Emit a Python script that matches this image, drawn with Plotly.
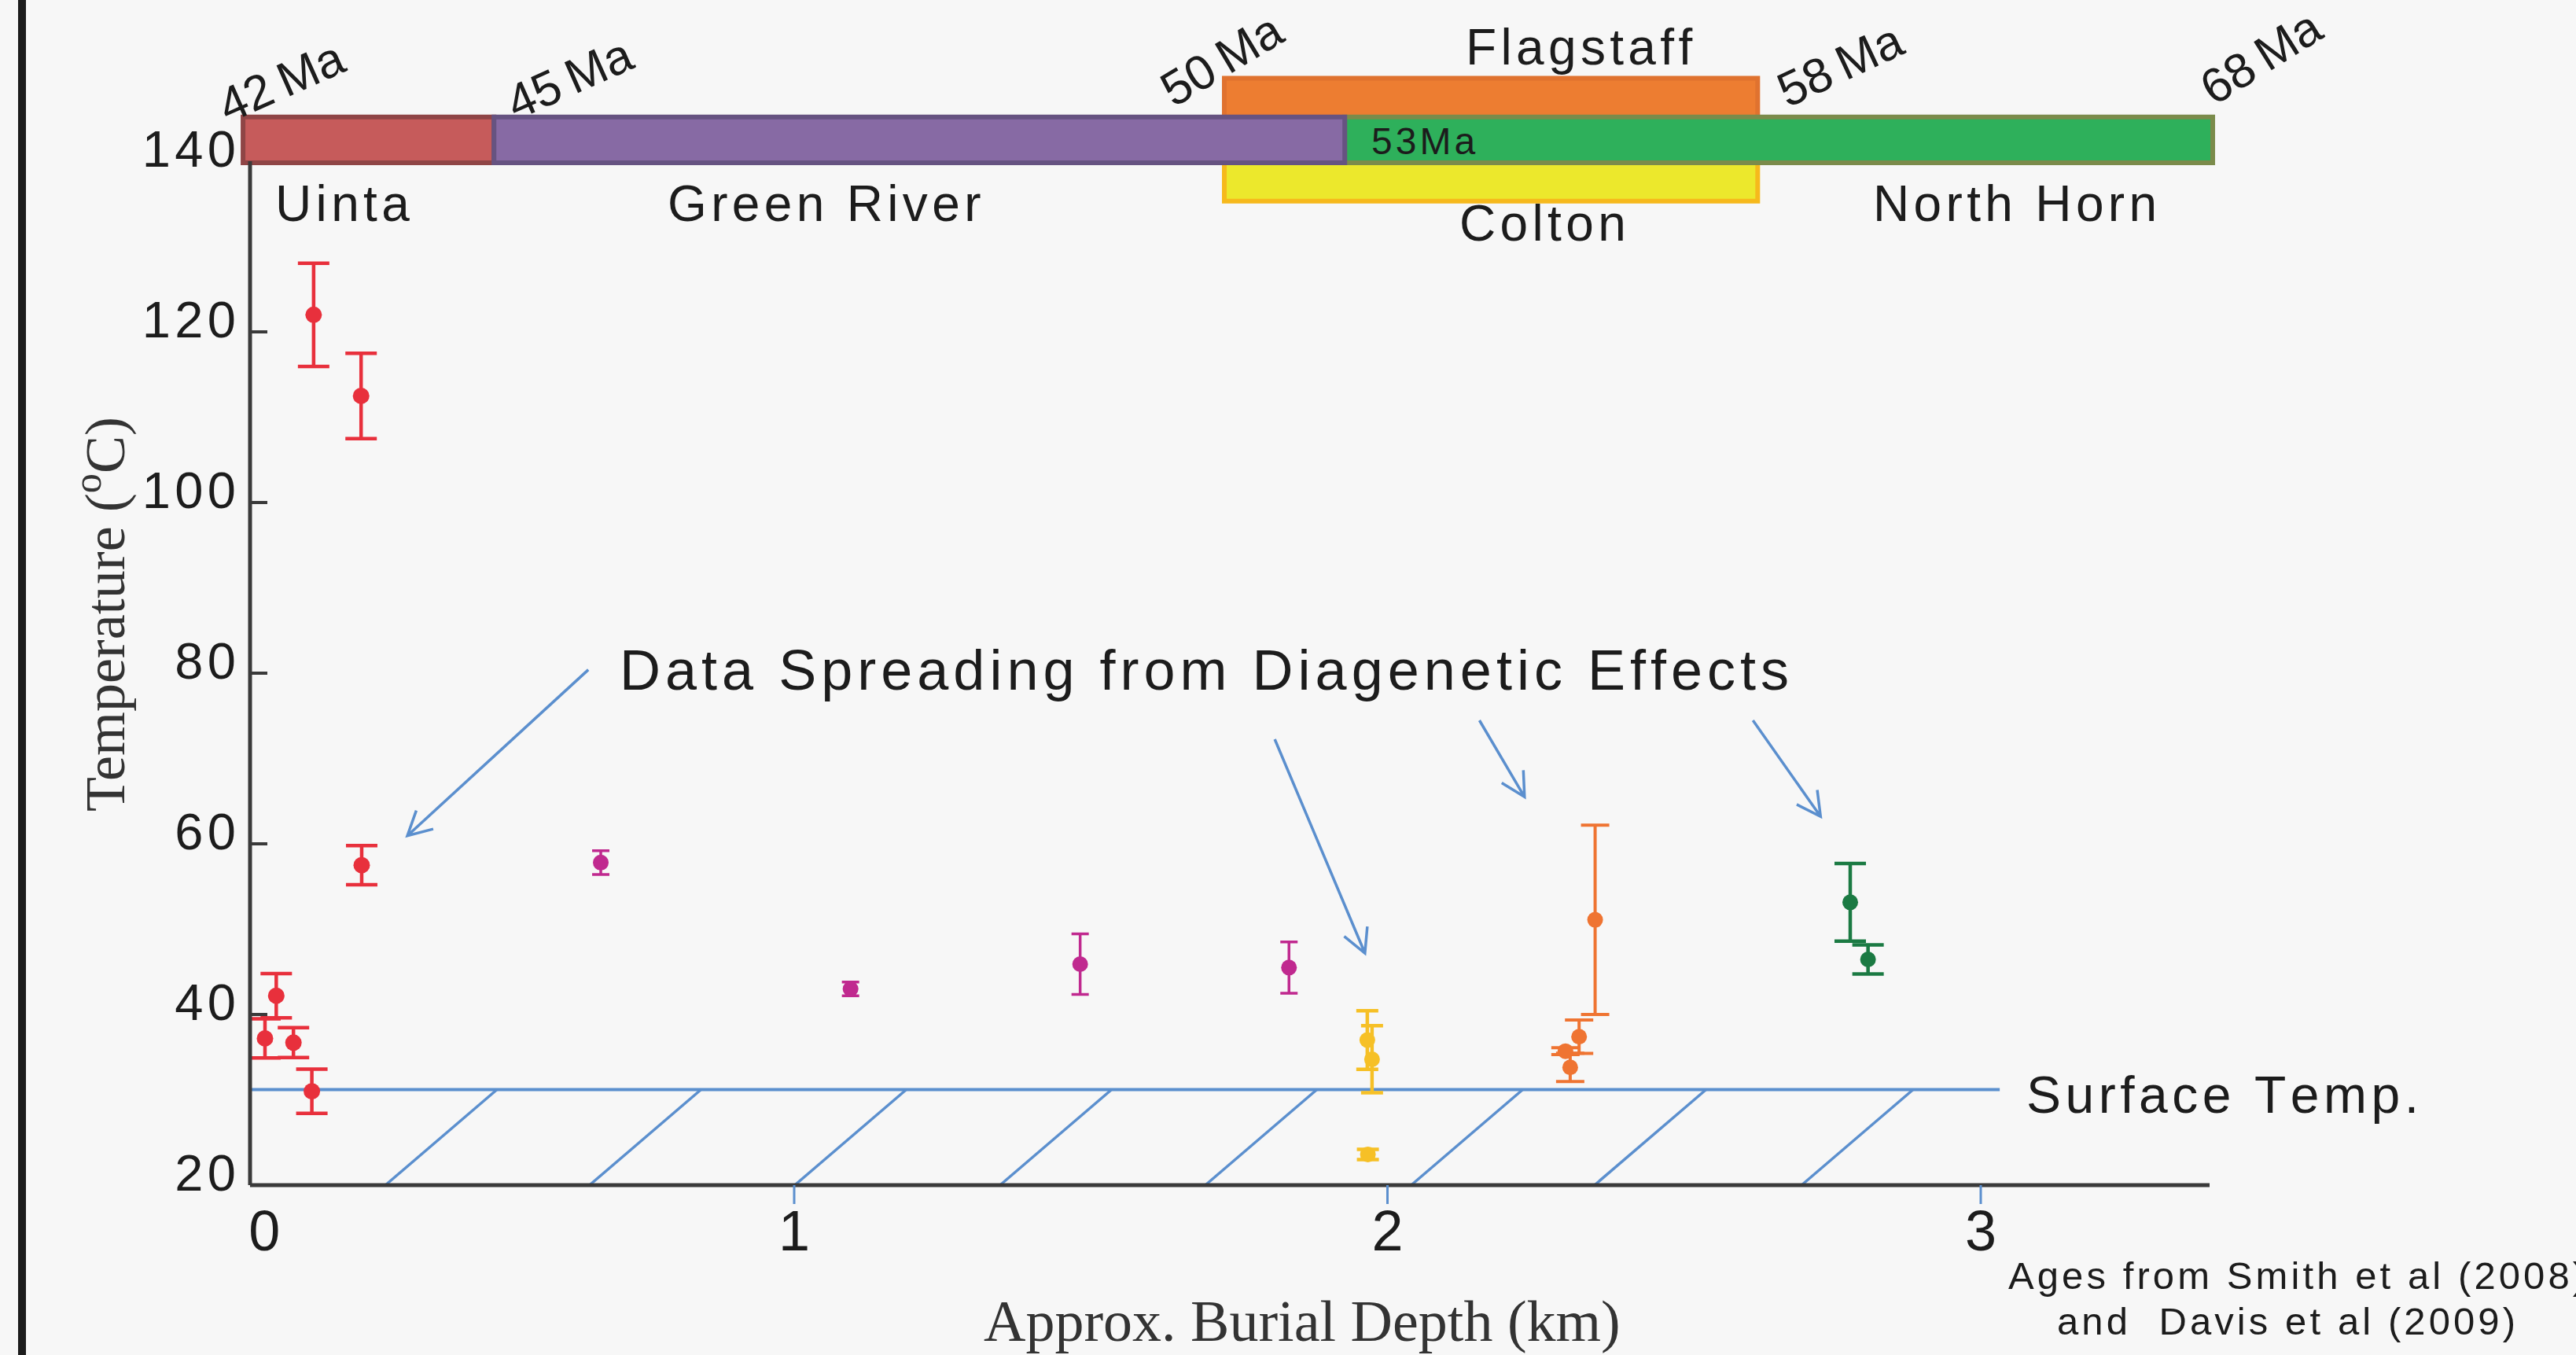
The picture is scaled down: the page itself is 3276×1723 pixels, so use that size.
import math
import plotly.graph_objects as go

# ---------------- data ----------------
formation_names = ["Uinta", "Green River", "Flagstaff", "Colton", "North Horn"]
formation_start_km = [0.071, 0.494, 1.725, 1.725, 1.928]
formation_end_km = [0.494, 1.928, 2.624, 2.624, 3.391]
age_labels = ["42 Ma", "45 Ma", "50 Ma", "58 Ma", "68 Ma"]
inner_age_label = "53Ma"

uinta_depth_km = [0.190, 0.270, 0.271, 0.127, 0.108, 0.156, 0.187]
uinta_temp_c = [122.0, 112.5, 57.5, 42.2, 37.2, 36.7, 31.0]
uinta_err_c = [6.05, 5.0, 2.3, 2.6, 2.3, 1.75, 2.6]

green_river_depth_km = [0.674, 1.095, 1.482, 1.834]
green_river_temp_c = [57.8, 43.0, 45.9, 45.5]
green_river_err_c = [1.4, 0.8, 3.55, 3.0]

colton_depth_km = [1.966, 1.974, 1.967]
colton_temp_c = [37.0, 34.75, 23.6]
colton_err_c = [3.43, 3.93, 0.6]

flagstaff_depth_km = [2.350, 2.323, 2.300, 2.308]
flagstaff_temp_c = [51.1, 37.4, 35.7, 33.8]
flagstaff_err_c = [11.1, 1.96, 0.4, 1.65]

north_horn_depth_km = [2.780, 2.810]
north_horn_temp_c = [53.15, 46.45]
north_horn_err_c = [4.55, 1.7]

surface_temp_c = 31.2
surface_line_end_km = 3.032
hatch_base_km = [0.311, 0.655, 1.001, 1.347, 1.693, 2.040, 2.349, 2.698]
hatch_lean_km = 0.188

x_tick_vals = [0.107, 1, 2, 3]
x_tick_text = ["0", "1", "2", "3"]
y_tick_vals = [20, 40, 60, 80, 100, 120, 140]
blue_tick_vals = [1, 2, 3]

arrow_from = [(0.653, 80.4), (1.810, 72.26), (2.155, 74.47), (2.616, 74.47)]
arrow_to = [(0.348, 60.95), (1.962, 47.19), (2.231, 65.5), (2.730, 63.2)]

# ---------------- geometry / styles ----------------
W, H = 3276, 1723
PL, PR, PT, PB = 300, 2830, 0, 1545
KM0_PX, PX_PER_KM = 255.5, 754.5
C20_PX, PX_PER_C = 1507.0, 10.85


def km_at(px):
    return (px - KM0_PX) / PX_PER_KM


def c_at(py):
    return 20 + (C20_PX - py) / PX_PER_C


def to_px(x, y):
    return KM0_PX + PX_PER_KM * x, C20_PX - PX_PER_C * (y - 20)


def paper_xy(px, py):
    return (px - PL) / (PR - PL), (PB - py) / (PB - PT)


X_RANGE = [km_at(PL), km_at(PR)]
Y_RANGE = [c_at(PB), c_at(PT)]
AX_X0, AX_X1 = km_at(318), km_at(2810)
AX_Y_TOP = 140

SANS = "Liberation Sans, Arial, sans-serif"
SERIF = "Liberation Serif, Times New Roman, serif"
BLUE = "#5b8fce"
AXIS = "#3a3a3a"
TXT = "#1c1c1c"
HS = "\u200a"


def spaced(s):
    return HS.join(list(s))


formation_band_c = {
    "Uinta": (139.82, 145.19), "Green River": (139.82, 145.19),
    "North Horn": (139.82, 145.19), "Flagstaff": (142.5, 149.72),
    "Colton": (135.33, 142.5),
}
formation_fill = {"Uinta": "#c65b5b", "Green River": "#876aa4", "Flagstaff": "#ed7d31",
                  "Colton": "#ece82c", "North Horn": "#2eb05b"}
formation_edge = {"Uinta": "#8f4546", "Green River": "#665381", "Flagstaff": "#e0722f",
                  "Colton": "#f6b91c", "North Horn": "#7b8b4b"}
draw_order = ["Flagstaff", "Colton", "North Horn", "Uinta", "Green River"]

fig = go.Figure()

groups = [
    (uinta_depth_km, uinta_temp_c, uinta_err_c, "#e8303c", 20, 4.5, 21, "Uinta"),
    (green_river_depth_km, green_river_temp_c, green_river_err_c, "#c0298f", 11, 3.5, 20, "Green River"),
    (colton_depth_km, colton_temp_c, colton_err_c, "#f6c026", 14, 4.5, 20, "Colton"),
    (flagstaff_depth_km, flagstaff_temp_c, flagstaff_err_c, "#ef7432", 18, 4, 20, "Flagstaff"),
    (north_horn_depth_km, north_horn_temp_c, north_horn_err_c, "#1b7a43", 20, 4.5, 20, "North Horn"),
]
for xs, ys, es, col, capw, thick, msize, name in groups:
    fig.add_trace(go.Scatter(
        x=xs, y=ys, mode="markers", name=name, showlegend=False,
        marker=dict(color=col, size=msize),
        error_y=dict(type="data", array=es, visible=True, color=col,
                     thickness=thick, width=capw),
    ))

shapes = []
# left black frame line
bx, _ = paper_xy(28, 0)
shapes.append(dict(type="line", xref="paper", yref="paper", x0=bx, x1=bx,
                   y0=paper_xy(0, H)[1], y1=1, line=dict(color="#1c1c1c", width=10)))

# formation bars
idx = {n: i for i, n in enumerate(formation_names)}
for n in draw_order:
    i = idx[n]
    y0, y1 = formation_band_c[n]
    shapes.append(dict(type="rect", xref="x", yref="y", layer="above",
                       x0=formation_start_km[i], x1=formation_end_km[i], y0=y0, y1=y1,
                       fillcolor=formation_fill[n],
                       line=dict(color=formation_edge[n], width=6)))

# surface temperature line and hatching
shapes.append(dict(type="line", xref="x", yref="y", layer="below",
                   x0=AX_X0, x1=surface_line_end_km, y0=surface_temp_c, y1=surface_temp_c,
                   line=dict(color=BLUE, width=4)))
for hb in hatch_base_km:
    shapes.append(dict(type="line", xref="x", yref="y", layer="below",
                       x0=hb, x1=hb + hatch_lean_km, y0=20, y1=surface_temp_c,
                       line=dict(color=BLUE, width=3.5)))

# axis lines
shapes.append(dict(type="line", xref="x", yref="y", x0=AX_X0, x1=AX_X1, y0=20, y1=20,
                   line=dict(color=AXIS, width=5)))
shapes.append(dict(type="line", xref="x", yref="y", x0=AX_X0, x1=AX_X0, y0=20, y1=AX_Y_TOP,
                   line=dict(color=AXIS, width=5)))
# blue ticks under x axis
for t in blue_tick_vals:
    shapes.append(dict(type="line", xref="x", yref="y", x0=t, x1=t, y0=20, y1=c_at(1531),
                       line=dict(color=BLUE, width=3)))

# arrows with open heads
for (x0, y0), (x1, y1) in zip(arrow_from, arrow_to):
    sx, sy = to_px(x0, y0)
    tx, ty = to_px(x1, y1)
    dx, dy = tx - sx, ty - sy
    n = math.hypot(dx, dy)
    ux, uy = dx / n, dy / n
    arms = []
    for sgn in (1, -1):
        a = math.radians(28 * sgn)
        rx = ux * math.cos(a) - uy * math.sin(a)
        ry = ux * math.sin(a) + uy * math.cos(a)
        arms.append((km_at(tx - 34 * rx), c_at(ty - 34 * ry)))
    path = (f"M{x0},{y0} L{x1},{y1} M{arms[0][0]},{arms[0][1]} L{x1},{y1} "
            f"L{arms[1][0]},{arms[1][1]}")
    shapes.append(dict(type="path", xref="x", yref="y", path=path,
                       line=dict(color=BLUE, width=3.5)))

annotations = []


def add_text(text, px, py, size, family=SANS, xanchor="center", angle=0, color=TXT):
    xp, yp = paper_xy(px, py)
    annotations.append(dict(text=text, x=xp, y=yp, xref="paper", yref="paper",
                            xanchor=xanchor, yanchor="middle", showarrow=False,
                            textangle=angle, font=dict(family=family, size=size, color=color)))


# formation names
name_pos = {"Uinta": (435, 259), "Green River": (1048, 259), "Flagstaff": (2008, 60),
            "Colton": (1962, 284), "North Horn": (2562, 259)}
for n in formation_names:
    add_text(spaced(n), *name_pos[n], 64)
add_text(spaced(inner_age_label), 1810, 180, 48)

age_pos = [(358, 104, -24), (724, 99, -24), (1554, 76, -31), (2340, 82, -25), (2875, 72, -32)]
for lab, (px, py, ang) in zip(age_labels, age_pos):
    add_text(lab.replace(" ", "\u2009"), px, py, 62, angle=ang)

add_text(spaced("Data Spreading from Diagenetic Effects"), 786, 852, 72, xanchor="left")
add_text(spaced("Surface Temp."), 2826, 1392, 66)
add_text(spaced("Ages from Smith et al (2008)"), 2552, 1622, 49, xanchor="left")
add_text(spaced("and  Davis et al (2009)"), 2614, 1680, 49, xanchor="left")
add_text("Temperature (<sup>o</sup>C)", 128, 781, 72, family=SERIF, angle=-90, color="#333333")
add_text("Approx. Burial Depth (km)", 1656, 1680, 74, family=SERIF, color="#333333")

fig.update_layout(
    width=W, height=H,
    margin=dict(l=PL, r=W - PR, t=PT, b=H - PB, pad=0),
    paper_bgcolor="#f7f7f7", plot_bgcolor="#f7f7f7",
    showlegend=False,
    shapes=shapes, annotations=annotations,
    xaxis=dict(range=X_RANGE, anchor="free", position=paper_xy(0, 1507)[1],
               tickmode="array", tickvals=x_tick_vals, ticktext=x_tick_text,
               ticks="", showline=False, showgrid=False, zeroline=False,
               tickfont=dict(family=SANS, size=72, color=TXT), ticklabelstandoff=10),
    yaxis=dict(range=Y_RANGE, anchor="free", position=paper_xy(318, 0)[0],
               tickmode="array", tickvals=y_tick_vals,
               ticktext=[HS.join(str(v)) for v in y_tick_vals],
               ticks="inside", ticklen=21, tickwidth=4, tickcolor=AXIS,
               showline=False, showgrid=False, zeroline=False,
               tickfont=dict(family=SANS, size=65, color=TXT),
               ticklabelstandoff=18, ticklabelshift=-16),
)

fig.write_html("out.html", config={"displayModeBar": False},
               post_script="document.body.style.margin='0';document.body.style.overflow='hidden';")
